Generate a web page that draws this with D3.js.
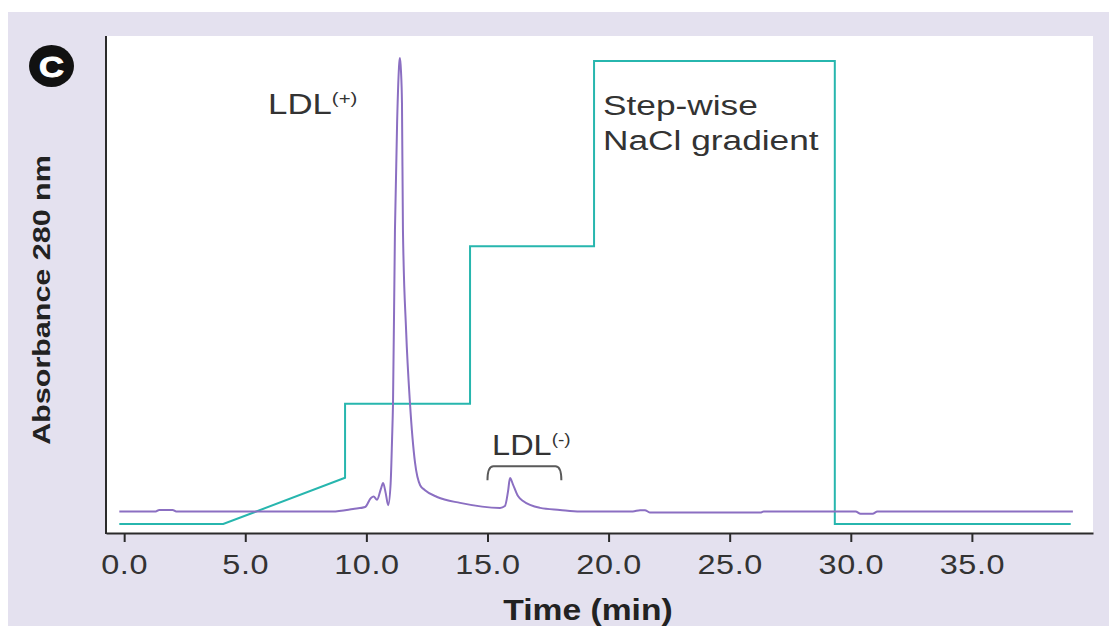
<!DOCTYPE html>
<html>
<head>
<meta charset="utf-8">
<script src="https://cdn.jsdelivr.net/npm/d3@7"></script>
<style>
  html, body { margin: 0; padding: 0; background: #fff; }
  svg { display: block; font-family: "Liberation Sans", Arial, sans-serif; }
</style>
</head>
<body>
<svg id="viz" width="1109" height="628"></svg>
<script>
// Absorbance trace (280 nm), arbitrary units, peak = 100
const absTime = [-0.2, 1.3, 1.45, 2.0, 2.15, 8.6, 9.45, 9.95, 10.19, 10.3, 10.44, 10.6, 10.69, 10.8, 10.9,
  11.0, 11.06, 11.1, 11.18, 11.27, 11.36, 11.39, 11.43, 11.47, 11.51, 11.64, 11.8, 12.01, 12.22, 12.42,
  12.92, 13.87, 15.52, 15.72, 15.85, 15.93, 16.05, 16.26, 16.47, 17.17, 17.99, 18.82, 21.0, 21.3, 21.5,
  21.7, 26.3, 26.4, 30.2, 30.4, 30.9, 31.1, 39.17];
const absValue = [0, 0, 0.35, 0.35, 0, 0, 0.55, 1.0, 3.0, 3.3, 2.6, 5.0, 6.3, 4.0, 1.4,
  6.0, 15.8, 23.9, 62, 86, 99, 100, 97, 90, 62, 40, 23.9, 10.7, 5.8, 4.7,
  3.2, 1.9, 0.8, 1.2, 4.5, 7.4, 6.0, 3.4, 2.3, 0.8, 0.35, 0, 0, 0.3, 0.3,
  -0.2, -0.2, 0, 0, -0.5, -0.5, 0, 0];

// Step-wise NaCl gradient, % of final concentration
const gradTime = [-0.2, 4.09, 9.12, 9.12, 14.28, 14.28, 19.4, 19.4, 29.34, 29.34, 39.08];
const gradValue = [0, 0, 10, 26, 26, 60, 60, 100, 100, 0, 0];

const xTicks = [0, 5, 10, 15, 20, 25, 30, 35];

const CONFIG = {
  width: 1109, height: 628,
  plot: { left: 106, right: 1093, top: 36, bottom: 533 },
  sx: 1.2, // the figure is stretched sideways, so is its type
  colors: { bg: "#e4e1ef", panel: "#ffffff", axis: "#2b2b2b", text: "#333333",
            abs: "#8b6fc2", grad: "#27b6ae", bracket: "#5a5a5a" }
};

const svg = d3.select("#viz");
const P = CONFIG.plot;

svg.append("rect").attr("x", 8).attr("y", 12).attr("width", CONFIG.width - 8).attr("height", 614)
  .attr("fill", CONFIG.colors.bg);
svg.append("rect").attr("x", P.left).attr("y", P.top).attr("width", P.right - P.left).attr("height", P.bottom - P.top)
  .attr("fill", CONFIG.colors.panel);

const x = d3.scaleLinear().domain([-0.75, 40]).range([P.left, P.right]);
const yAbs = d3.scaleLinear().domain([-4.74, 104.85]).range([P.bottom, P.top]);
const yGrad = d3.scaleLinear().domain([-1.94, 105.4]).range([P.bottom, P.top]);

// helper: text placed at (px,py) and widened like the source
function label(parent, px, py, txt, size, opts = {}) {
  const g = parent.append("g")
    .attr("transform", `translate(${px},${py}) ${opts.rotate ? `rotate(${opts.rotate})` : ""} scale(${opts.sx || CONFIG.sx},1)`);
  const t = g.append("text")
    .attr("font-size", size)
    .attr("font-weight", opts.weight || "normal")
    .attr("text-anchor", opts.anchor || "start")
    .attr("fill", opts.fill || CONFIG.colors.text)
    .text(txt);
  return t;
}

// gradient line
const gradData = gradTime.map((t, i) => ({ t, v: gradValue[i] }));
svg.append("path")
  .datum(gradData)
  .attr("fill", "none")
  .attr("stroke", CONFIG.colors.grad)
  .attr("stroke-width", 2)
  .attr("d", d3.line().x(d => x(d.t)).y(d => yGrad(d.v)));

// absorbance trace
const absData = absTime.map((t, i) => ({ t, v: absValue[i] }));
svg.append("path")
  .datum(absData)
  .attr("fill", "none")
  .attr("stroke", CONFIG.colors.abs)
  .attr("stroke-width", 2)
  .attr("stroke-linejoin", "round")
  .attr("d", d3.line().x(d => x(d.t)).y(d => yAbs(d.v)).curve(d3.curveMonotoneX));

// bracket under LDL(-)
const bx0 = x(15.0), bx1 = x(18.05), bTop = yAbs(10.0), bEnd = yAbs(6.9);
svg.append("path")
  .attr("fill", "none")
  .attr("stroke", CONFIG.colors.bracket)
  .attr("stroke-width", 2)
  .attr("d", `M${bx0},${bEnd} Q${bx0},${bTop} ${bx0 + 6},${bTop} L${bx1 - 6},${bTop} Q${bx1},${bTop} ${bx1},${bEnd}`);

// axes
const xAxis = svg.append("g")
  .attr("transform", `translate(0,${P.bottom})`)
  .call(d3.axisBottom(x).tickValues(xTicks).tickFormat(d3.format(".1f"))
    .tickSize(9).tickSizeOuter(0).tickPadding(13));
xAxis.select(".domain").attr("stroke", CONFIG.colors.axis).attr("stroke-width", 2);
xAxis.selectAll(".tick line").attr("stroke", CONFIG.colors.axis).attr("stroke-width", 2);
xAxis.selectAll(".tick text")
  .attr("font-size", 27)
  .attr("font-family", "Liberation Sans, Arial, sans-serif")
  .attr("fill", CONFIG.colors.text)
  .attr("letter-spacing", 0.5)
  .attr("transform", `scale(${CONFIG.sx},1)`);

svg.append("line")
  .attr("x1", P.left).attr("x2", P.left).attr("y1", P.top).attr("y2", P.bottom + 1)
  .attr("stroke", CONFIG.colors.axis).attr("stroke-width", 2);

// axis titles
label(svg, 588, 620, "Time (min)", 29, { weight: "bold", anchor: "middle", sx: 1.16, fill: "#222" });
label(svg, 50, 300, "Absorbance 280 nm", 24, { weight: "bold", anchor: "middle", rotate: -90, sx: 1.27, fill: "#222" });

// panel badge
svg.append("ellipse").attr("cx", 51.5).attr("cy", 66).attr("rx", 22.5).attr("ry", 21).attr("fill", "#111");
label(svg, 51.5, 77, "C", 30, { weight: "bold", anchor: "middle", fill: "#fff", sx: 1.15 })
  .attr("stroke", "#fff").attr("stroke-width", 1);

// annotations
const ldlPlus = label(svg, x(5.94), 114, "LDL", 29, { sx: 1.2 });
ldlPlus.append("tspan").attr("font-size", 17).attr("dy", -10.5).text("(+)");

const ldlMinus = label(svg, x(15.19), 455, "LDL", 29, { sx: 1.12 });
ldlMinus.append("tspan").attr("font-size", 17).attr("dy", -10.5).text("(-)");

label(svg, x(19.77), 115, "Step-wise", 28, { sx: 1.26 });
label(svg, x(19.77), 150, "NaCl gradient", 28, { sx: 1.26 });
</script>
</body>
</html>
